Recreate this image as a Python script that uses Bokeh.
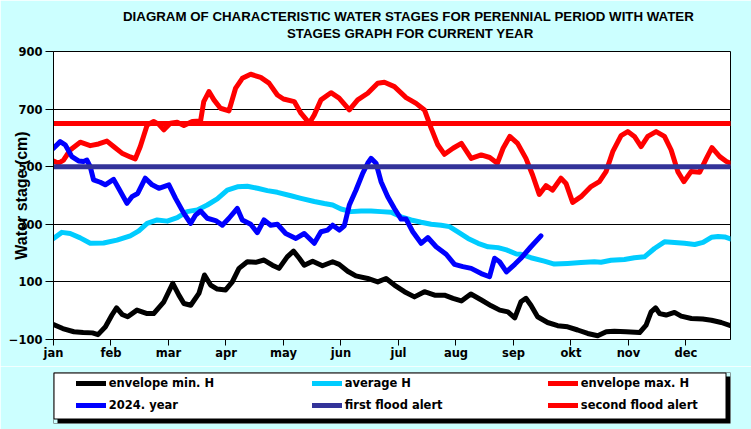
from bokeh.plotting import figure
from bokeh.models import (FixedTicker, Legend, LegendItem, BoxAnnotation, Range1d, Title)
from bokeh.layouts import column
from bokeh.embed import file_html
from bokeh.resources import INLINE

# ---------------- data ----------------
months = ["jan", "feb", "mar", "apr", "may", "jun", "jul", "aug", "sep", "okt", "nov", "dec"]
month_ticks = [0, 31, 62, 93, 124, 155, 186, 217, 248, 279, 310, 341]
day_start, day_end = 0, 365
y_ticks = [-100, 100, 300, 500, 700, 900]

env_min_day = [0, 5, 11, 16, 21, 24, 28, 31.5, 34, 37, 40, 45, 50.5, 54, 59.5, 64.3, 67.6, 70.3, 74, 78.4,
               81.4, 84.7, 88.3, 92.8, 96.4, 100, 104.5, 109, 113.5, 118, 121.6, 126, 129.4, 132.5, 135.2,
               139.7, 145, 150.5, 154, 158.6, 163, 169.4, 174.8, 179.3, 183.8, 189.2, 194.6, 200, 205.5,
               210.8, 215.4, 219.9, 225, 230.7, 236, 240.6, 245, 248.7, 252, 254.7, 257.4, 261, 266.4,
               271.8, 277.2, 282.6, 288, 293.4, 298, 302.4, 308.7, 316, 319.5, 322.2, 324.6, 326.8, 330.3,
               334.8, 338.4, 343.9, 350, 354.7, 360, 365]
env_min_val = [-48, -62, -73, -76, -77, -83, -56, -15, 10, -13, -21, 2, -10, -10, 31, 95, 54, 25, 19, 60,
               124, 89, 75, 72, 100, 147, 170, 168, 176, 158, 147, 187, 207, 182, 158,
               172, 156, 170, 161, 137, 121, 112, 100, 112, 89, 66, 48, 66, 54,
               54, 43, 34, 58, 37, 17, 2, -4, -25, 31, 43, 19, -21, -41,
               -52, -56, -67, -79, -87, -73, -71, -73, -76, -50, -4, 10, -10, -15,
               -6, -19, -27, -29, -33, -41, -52]

avg_day = [0, 4.5, 9, 14.4, 19.8, 27, 34.2, 41.4, 46, 50.5, 55.9, 61.3, 66.7, 72, 77.5, 82.9, 88.3, 93.7,
           99.1, 104.5, 110, 115.3, 120.7, 128, 133.4, 140.6, 146, 150.5, 155, 160.4, 165.8, 171.2, 176.6,
           182, 187.4, 192.8, 198.2, 203.6, 209, 213.5, 218, 223.5, 228.9, 234.3, 239.7, 244.2, 249.6,
           252, 257.4, 264.6, 270, 277.2, 284.4, 291.6, 295.2, 300.6, 307.8, 313.2, 318.6, 324, 329.4,
           334.8, 340.2, 345.7, 350.2, 354.7, 358.3, 361.9, 365]
avg_val = [251, 272, 268, 253, 234, 235, 245, 260, 277, 303, 315, 311, 323, 344, 350, 367, 388, 419,
           430, 432, 425, 417, 411, 399, 390, 379, 372, 367, 353, 344, 346, 346, 344,
           342, 326, 315, 307, 300, 297, 292, 274, 251, 234, 222, 219, 211, 197,
           196, 184, 172, 162, 164, 167, 170, 168, 175, 178, 184, 187, 216, 239,
           237, 234, 230, 237, 255, 258, 256, 249]

env_max_day = [0, 2.7, 5.4, 9, 14.4, 19.8, 24.3, 28.8, 32.4, 36.9, 41.4, 44.1, 46.8, 50.5, 54, 56.8, 59.5,
               63, 66.7, 70.3, 74.8, 79.3, 81, 83.8, 86.5, 90, 94.6, 98.2, 101.8, 106.3, 111.7, 116.2,
               120.7, 124, 129.8, 133.4, 137.9, 140.6, 144.2, 149.6, 154, 159.5, 164, 169.4, 174.8, 178.4,
               183.8, 190.1, 195.5, 200, 203.6, 207.2, 210.8, 215.4, 219.9, 225.2, 230.6, 235.2, 239.3,
               242.4, 246, 250.2, 254.7, 258.3, 261.9, 265.5, 269.1, 273.6, 276.3, 279.9, 284.4, 289.8,
               294.3, 297.9, 301.5, 306, 309.6, 313.2, 316.8, 320.4, 324.9, 329.4, 333, 336.6, 339.9,
               343.7, 348.4, 352, 355, 359.2, 362.8, 365]
env_max_val = [520, 512, 523, 558, 585, 573, 579, 589, 570, 547, 534, 527, 570, 645, 657, 647, 628,
               651, 654, 643, 657, 659, 726, 761, 732, 703, 694, 773, 807, 821, 810, 790,
               749, 735, 726, 686, 651, 680, 732, 757, 738, 697, 732, 755, 790, 793,
               778, 740, 720, 697, 634, 576, 543, 564, 581, 529, 541, 532, 512,
               564, 605, 581, 529, 471, 404, 434, 419, 460, 442, 376, 396, 431,
               448, 483, 552, 608, 622, 605, 570, 605, 622, 605, 558, 483, 448,
               483, 481, 529, 566, 535, 518, 512]

year_day = [0, 3.6, 6.3, 9.9, 13.5, 16.2, 18, 19.8, 21.6, 25.2, 27.9, 32.4, 35.1, 39.6, 42.3, 45.4, 49.5,
            53.2, 56.8, 62.2, 65.8, 70.3, 73.9, 76.6, 79.3, 82.9, 87.4, 91, 94.6, 99.1, 101.8, 106.3,
            109.9, 113.5, 117.1, 120.7, 125.2, 130.7, 135.2, 140.6, 144.2, 147.8, 150.5, 154.1, 156.8,
            159.5, 163.1, 166.7, 169.4, 171.2, 173.9, 176.6, 180.2, 183.8, 187.4, 190.1, 193.7, 198.2,
            201.8, 206.3, 211.7, 216.2, 220.7, 225.2, 230.6, 235.1, 237.8, 240.5, 244.2, 248.7, 252,
            257.4, 262.8]
year_val = [564, 587, 576, 535, 520, 518, 523, 500, 454, 446, 437, 456, 425, 373, 396, 407, 460,
            437, 425, 437, 390, 338, 303, 332, 346, 321, 313, 297, 321, 355, 315, 300,
            271, 315, 297, 300, 268, 251, 268, 234, 274, 280, 297, 280, 295,
            367, 419, 477, 512, 529, 512, 448, 396, 355, 318, 318, 274, 234,
            254, 222, 196, 161, 153, 147, 129, 118, 182, 170, 135, 161, 182,
            222, 260]

first_flood_alert = 500
second_flood_alert = 650

series_labels = ["envelope min. H", "average H", "envelope max. H",
                 "2024. year", "first flood alert", "second flood alert"]
series_colors = ["black", "#00CCFF", "#FF0000", "#0000FF", "#333399", "#FF0000"]

BG = "#CCFFFF"
LW = 5
W = 751

# ---------------- main figure ----------------
p = figure(width=W, height=366, output_backend="svg", toolbar_location=None, title=None,
           x_range=Range1d(day_start, day_end), y_range=Range1d(-100, 900),
           min_border_left=53, min_border_right=21, min_border_top=51, min_border_bottom=27)
p.border_fill_color = BG
p.background_fill_color = "white"
p.outline_line_color = "black"
p.outline_line_width = 1

series = [
    (env_min_day, env_min_val),
    (avg_day, avg_val),
    (env_max_day, env_max_val),
    (year_day, year_val),
    ([day_start, day_end], [first_flood_alert] * 2),
    ([day_start, day_end], [second_flood_alert] * 2),
]
for (xs, ys), col in zip(series, series_colors):
    p.line(xs, ys, color=col, line_width=LW, line_join="round", line_cap="round")

# axes
p.xaxis.ticker = FixedTicker(ticks=month_ticks)
p.xaxis.major_label_overrides = {t: m for t, m in zip(month_ticks, months)}
p.yaxis.ticker = FixedTicker(ticks=y_ticks)
for ax in (p.xaxis[0], p.yaxis[0]):
    ax.minor_tick_line_color = None
    ax.major_tick_in = 0
    ax.axis_line_color = "black"
    ax.major_tick_line_color = "black"
    ax.major_label_text_color = "black"
    ax.major_label_text_font = "DejaVu Sans"
    ax.major_label_text_font_style = "bold"
    ax.major_label_text_font_size = "11.5px"
p.xaxis.major_tick_out = 6
p.xaxis.major_label_standoff = 0
p.yaxis.major_tick_out = 8
p.yaxis.major_label_standoff = 3
p.yaxis.axis_label = "Water stage (cm)"
p.yaxis.axis_label_text_font = "Liberation Sans"
p.yaxis.axis_label_text_font_style = "bold"
p.yaxis.axis_label_text_font_size = "16px"
p.yaxis.axis_label_text_color = "black"
p.yaxis.axis_label_standoff = -24
p.xgrid.grid_line_color = None
p.ygrid.ticker = FixedTicker(ticks=y_ticks)
p.ygrid.grid_line_color = "black"
p.ygrid.grid_line_width = 1

# titles (line 2 first: it sits closest to the plot)
title_font = "Liberation Sans"
p.add_layout(Title(text="STAGES GRAPH FOR CURRENT  YEAR", align="left", offset=233.5,
                   text_font=title_font, text_font_style="bold", text_font_size="13.3px",
                   text_color="black", standoff=22), "above")
p.add_layout(Title(text="DIAGRAM OF CHARACTERISTIC  WATER STAGES FOR PERENNIAL  PERIOD WITH WATER",
                   align="left", offset=69.5, text_font=title_font, text_font_style="bold",
                   text_font_size="13.3px", text_color="black", standoff=-23), "above")

# ---------------- legend figure ----------------
# frame = white legend box plus its black shadow; 1 data unit = 1 pixel
frame_w, frame_h, shadow = 677, 51, 4
lp = figure(width=W, height=63, output_backend="svg", toolbar_location=None, title=None,
            x_range=Range1d(0, frame_w), y_range=Range1d(0, frame_h),
            x_axis_type=None, y_axis_type=None,
            min_border_left=53, min_border_right=21, min_border_top=6, min_border_bottom=6)
lp.border_fill_color = BG
lp.background_fill_color = "black"
lp.outline_line_color = None
lp.add_layout(BoxAnnotation(left=0.5, right=frame_w - shadow - 0.5, bottom=shadow + 0.5, top=frame_h - 0.5,
                            fill_color="white", fill_alpha=1, line_color="black", line_width=1, line_alpha=1))
lp.add_layout(BoxAnnotation(left=frame_w - shadow, right=frame_w, bottom=frame_h - shadow, top=frame_h,
                            fill_color=BG, fill_alpha=1, line_color=None))
lp.add_layout(BoxAnnotation(left=0, right=shadow, bottom=0, top=shadow,
                            fill_color=BG, fill_alpha=1, line_color=None))

items = []
nan = float("nan")
for lab, col in zip(series_labels, series_colors):
    r = lp.line([nan], [nan], color=col, line_width=LW, line_cap="round")
    items.append(LegendItem(label=lab, renderers=[r]))
legend = Legend(items=items, location=(22.8, 6.7), orientation="horizontal", ncols=3,
                glyph_width=30, glyph_height=22, label_height=22, label_width=203, label_standoff=3,
                spacing=0, padding=0, margin=0, background_fill_alpha=0, border_line_alpha=0,
                inactive_fill_alpha=0,
                label_text_font="DejaVu Sans", label_text_font_style="bold",
                label_text_font_size="11.5px", label_text_color="black")
lp.add_layout(legend)

layout = column(p, lp, spacing=0)
open("out.html", "w").write(file_html(layout, INLINE))
